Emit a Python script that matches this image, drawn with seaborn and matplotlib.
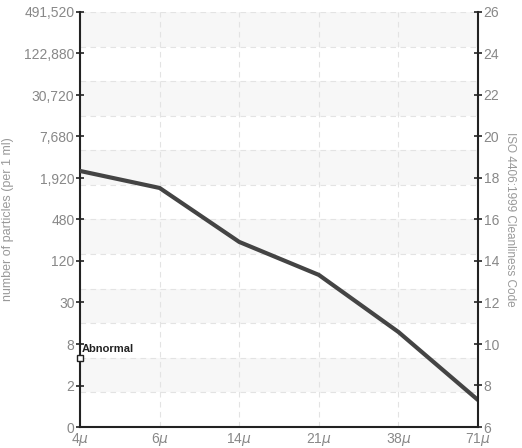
import matplotlib
matplotlib.use("Agg")
import matplotlib.pyplot as plt
import seaborn as sns
import numpy as np
import pandas as pd

sizes = ["4$\\mu$", "6$\\mu$", "14$\\mu$", "21$\\mu$", "38$\\mu$", "71$\\mu$"]
iso_codes = [18.34, 17.52, 14.92, 13.33, 10.58, 7.3]
code_ticks = [6, 8, 10, 12, 14, 16, 18, 20, 22, 24, 26]
count_labels = ["0", "2", "8", "30", "120", "480", "1,920", "7,680", "30,720", "122,880", "491,520"]
abnormal_code = 9.33
abnormal_label = "Abnormal"

sns.set_style("white")
plt.rcParams['font.family'] = ['Liberation Sans Narrow', 'Liberation Sans', 'DejaVu Sans']
plt.rcParams['mathtext.fontset'] = 'custom'
plt.rcParams['mathtext.it'] = 'Liberation Sans Narrow:italic'
plt.rcParams['mathtext.rm'] = 'Liberation Sans Narrow'

fig = plt.figure(figsize=(5.22, 4.48), dpi=100)
ax = fig.add_axes([80/522, 21/448, 398/522, 415/448])

ymin, ymax = 6, 26
# alternating background bands (12 divisions)
edges = np.linspace(ymax, ymin, 13)
for i in range(12):
    if i % 2 == 0:
        ax.axhspan(edges[i+1], edges[i], color="#f7f7f7", zorder=0, lw=0)
for e in edges:
    ax.axhline(e, color="#e3e3e3", ls=(0, (5, 4)), lw=0.8, zorder=0.5)

df = pd.DataFrame({"x": np.arange(len(sizes)), "code": iso_codes})
for xv in df["x"]:
    ax.axvline(xv, color="#e3e3e3", ls=(0, (5, 4)), lw=0.8, zorder=0.5)

sns.lineplot(data=df, x="x", y="code", ax=ax, color="#444444", lw=3, zorder=3)

ax.set_xlim(0, len(sizes) - 1)
ax.set_ylim(ymin, ymax)
ax.set_xticks(range(len(sizes)))
ax.set_xticklabels(sizes)
ax.set_yticks(code_ticks)
ax.set_yticklabels(count_labels)
ax.set_xlabel("")
ax.set_ylabel("number of particles (per 1 ml)", color="#999999", fontsize=9, labelpad=7)

for side in ["top", "right"]:
    ax.spines[side].set_visible(False)
for side in ["left", "bottom"]:
    ax.spines[side].set_color("#222222")
    ax.spines[side].set_linewidth(1.5)
ax.tick_params(axis="both", direction="inout", length=6, width=1.2, color="#222222",
               labelcolor="#888888", labelsize=10, pad=1)
ax.tick_params(axis="x", pad=0)

ax2 = ax.twinx()
ax2.set_ylim(ymin, ymax)
ax2.set_yticks(code_ticks)
ax2.set_yticklabels([str(c) for c in code_ticks])
for side in ["top", "left", "bottom"]:
    ax2.spines[side].set_visible(False)
ax2.spines["right"].set_color("#222222")
ax2.spines["right"].set_linewidth(1.5)
ax2.tick_params(axis="y", direction="inout", length=6, width=1.2, color="#222222",
                labelcolor="#888888", labelsize=10, pad=1)
ax2.set_ylabel("ISO 4406:1999 Cleanliness Code", rotation=270, color="#999999",
               fontsize=8.5, labelpad=12)

ax.plot([0], [abnormal_code], marker="s", ms=5, mfc="white", mec="#222222", mew=1,
        clip_on=False, zorder=5)
ax.text(0.02, abnormal_code + 0.2, abnormal_label, fontsize=8, fontweight="bold",
        color="#222222", va="bottom", ha="left", zorder=5)

fig.savefig("out.png", dpi=100)
